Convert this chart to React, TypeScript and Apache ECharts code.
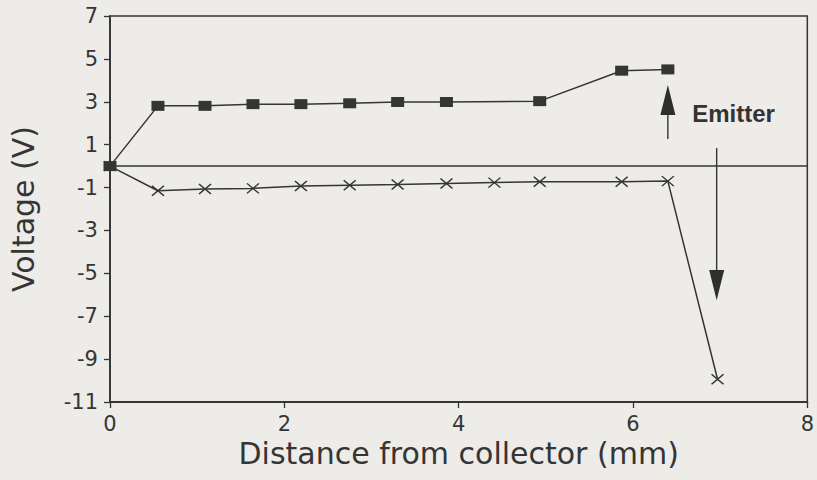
import React, { useEffect, useRef } from "react";
import * as echarts from "echarts";

// Distance from collector (mm) and voltage (V)
const emitterX = [0, 0.55, 1.09, 1.64, 2.19, 2.75, 3.3, 3.86, 4.93, 5.87, 6.4];
const emitterV = [0, 2.81, 2.81, 2.89, 2.89, 2.93, 2.99, 2.99, 3.03, 4.45, 4.51];

const collectorX = [0, 0.55, 1.09, 1.64, 2.19, 2.75, 3.3, 3.86, 4.41, 4.93, 5.87, 6.4, 6.97];
const collectorV = [0, -1.15, -1.07, -1.04, -0.93, -0.89, -0.86, -0.81, -0.77, -0.73, -0.73, -0.7, -9.94];

const xTicks = { min: 0, max: 8, interval: 2 };
const yTicks = { min: -11, max: 7, interval: 2 };
const referenceLevel = [0];

// annotation anchors (data units)
const upArrow = { x: 6.4, from: 1.26, headBase: 2.38, tip: 3.78 };
const downArrow = { x: 6.96, from: 0.84, headBase: -4.85, tip: -6.25 };
const emitterLabel = { text: "Emitter", x: 6.68, y: 2.45 };

const INK = "#353535";

export default function App() {
  const ref = useRef<HTMLDivElement>(null);
  useEffect(() => {
    if (!ref.current) return;
    const chart = echarts.init(ref.current, null, { renderer: "svg" });
    const pairs = (xs: number[], ys: number[]) => xs.map((x, i) => [x, ys[i]]);
    chart.setOption({
      animation: false,
      backgroundColor: "#edece9",
      textStyle: { fontFamily: "DejaVu Sans", color: INK },
      grid: {
        left: 110,
        right: 6,
        top: 16,
        bottom: 78,
        show: true,
        borderColor: INK,
        borderWidth: 1.5,
        backgroundColor: "transparent",
      },
      xAxis: {
        type: "value",
        min: xTicks.min,
        max: xTicks.max,
        interval: xTicks.interval,
        name: "Distance from collector (mm)",
        nameLocation: "middle",
        nameGap: 33,
        nameTextStyle: { fontSize: 30, color: INK, fontFamily: "DejaVu Sans" },
        axisLine: { onZero: false, lineStyle: { color: INK, width: 1.8 } },
        axisTick: { show: true, inside: false, length: 6, lineStyle: { color: INK, width: 1.3 } },
        axisLabel: { fontSize: 21, color: INK, margin: 11, fontFamily: "DejaVu Sans" },
        splitLine: { show: false },
      },
      yAxis: {
        type: "value",
        min: yTicks.min,
        max: yTicks.max,
        interval: yTicks.interval,
        name: "Voltage (V)",
        nameLocation: "middle",
        nameGap: 72,
        nameTextStyle: { fontSize: 30, color: INK, fontFamily: "DejaVu Sans" },
        axisLine: { onZero: false, lineStyle: { color: INK, width: 1.8 } },
        axisTick: { show: true, inside: false, length: 6, lineStyle: { color: INK, width: 1.3 } },
        axisLabel: { fontSize: 21, color: INK, margin: 12, fontFamily: "DejaVu Sans" },
        splitLine: { show: false },
      },
      series: [
        {
          type: "line",
          data: pairs(collectorX, collectorV),
          symbol: "path://M0,0L12,10M12,0L0,10",
          symbolSize: [12, 10],
          lineStyle: { color: INK, width: 1.5 },
          itemStyle: { color: INK, borderColor: INK, borderWidth: 1.4 },
          markLine: {
            silent: true,
            symbol: ["none", "none"],
            label: { show: false },
            lineStyle: { color: INK, width: 1.6, type: "solid" },
            data: referenceLevel.map((v) => ({ yAxis: v })),
          },
          z: 3,
        },
        {
          type: "line",
          data: pairs(emitterX, emitterV),
          symbol: "rect",
          symbolSize: [13, 10],
          lineStyle: { color: INK, width: 1.5 },
          itemStyle: { color: INK, borderWidth: 0 },
          z: 4,
        },
      ],
    });

    const px = (x: number, y: number) => chart.convertToPixel({ gridIndex: 0 }, [x, y]) as number[];
    const arrow = (a: { x: number; from: number; headBase: number; tip: number }) => {
      const s = px(a.x, a.from);
      const b = px(a.x, a.headBase);
      const t = px(a.x, a.tip);
      return [
        { type: "line", shape: { x1: s[0], y1: s[1], x2: b[0], y2: b[1] }, style: { stroke: INK, lineWidth: 1.4 }, z: 10 },
        {
          type: "polygon",
          shape: { points: [[b[0] - 7.5, b[1]], [b[0] + 7.5, b[1]], [t[0], t[1]]] },
          style: { fill: "#2e2e2e" },
          z: 10,
        },
      ];
    };
    const lp = px(emitterLabel.x, emitterLabel.y);
    chart.setOption({
      graphic: [
        ...arrow(upArrow),
        ...arrow(downArrow),
        {
          type: "text",
          x: lp[0],
          y: lp[1],
          style: {
            text: emitterLabel.text,
            fontFamily: "Liberation Sans",
            fontWeight: "bold",
            fontSize: 24,
            fill: "#333",
            align: "left",
            verticalAlign: "middle",
          },
          z: 10,
        },
      ],
    });
    return () => chart.dispose();
  }, []);
  return <div ref={ref} style={{ position: "absolute", left: 0, top: 0, width: 817, height: 480 }} />;
}
